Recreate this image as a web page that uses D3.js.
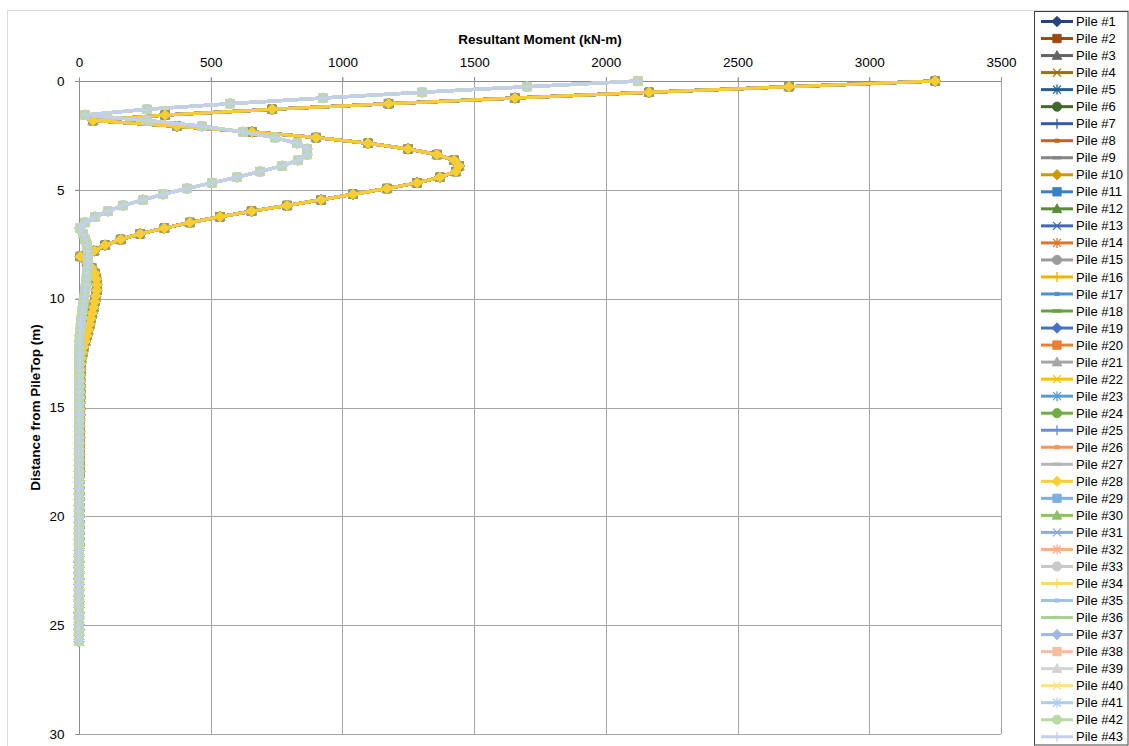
<!DOCTYPE html>
<html>
<head>
<meta charset="utf-8">
<script src="https://cdn.jsdelivr.net/npm/d3@7"></script>
<style>
  body { margin: 0; background: #ffffff; }
  svg text { font-family: "Liberation Sans", Arial, sans-serif; }
</style>
</head>
<body>
<svg id="chart" width="1129" height="746"></svg>
<script>
// Depth of each output node below the pile top (m)
const depths = [
  0, 0.26, 0.52, 0.78, 1.04, 1.3, 1.56, 1.82, 2.08, 2.34,
  2.6, 2.86, 3.12, 3.38, 3.64, 3.9, 4.16, 4.42, 4.68, 4.94,
  5.2, 5.46, 5.72, 5.98, 6.24, 6.5, 6.76, 7.02, 7.28, 7.54,
  7.8, 8.06, 8.32, 8.58, 8.84, 9.1, 9.36, 9.62, 9.88, 10.14,
  10.4, 10.66, 10.92, 11.18, 11.44, 11.7, 11.96, 12.22, 12.48, 12.74,
  13, 13.26, 13.52, 13.78, 14.04, 14.3, 14.56, 14.82, 15.08, 15.34,
  15.6, 15.86, 16.12, 16.38, 16.64, 16.9, 17.16, 17.42, 17.68, 17.94,
  18.2, 18.46, 18.72, 18.98, 19.24, 19.5, 19.76, 20.02, 20.28, 20.54,
  20.8, 21.06, 21.32, 21.58, 21.84, 22.1, 22.36, 22.62, 22.88, 23.14,
  23.4, 23.66, 23.92, 24.18, 24.44, 24.7, 24.96, 25.22, 25.48, 25.74
];

// Resultant moment profile shared by piles #1 - #28 (kN-m)
const momentProfileA = [
  3250, 2695, 2164, 1655, 1175, 733, 327, 53, 372, 657,
  900, 1097, 1249, 1359, 1424, 1443, 1431, 1370, 1283, 1169,
  1040, 919, 790, 655, 535, 421, 324, 232, 158, 99,
  58, 5, 30, 48, 60, 66, 68, 67, 64, 60,
  55, 50, 45, 40, 35, 30, 24, 18, 13, 9,
  7, 6, 5, 5, 5, 5, 5, 4, 4, 4,
  3, 3, 3, 3, 2, 2, 2, 2, 2, 2,
  1, 1, 1, 1, 1, 1, 1, 1, 1, 1,
  1, 1, 1, 0, 0, 0, 0, 0, 0, 0,
  0, 0, 0, 0, 0, 0, 0, 0, 0, 0
];

// Resultant moment profile shared by piles #29 - #43 (kN-m)
const momentProfileB = [
  2122, 1701, 1302, 926, 573, 258, 23, 258, 467, 623,
  744, 828, 866, 866, 831, 771, 687, 600, 505, 410,
  319, 243, 167, 110, 61, 23, 3, 15, 24, 30,
  33, 34, 34, 33, 31, 28, 26, 23, 20, 17,
  14, 12, 9, 7, 5, 3, 2, 2, 2, 1,
  1, 1, 1, 1, 1, 1, 1, 1, 1, 1,
  1, 0, 0, 0, 0, 0, 0, 0, 0, 0,
  0, 0, 0, 0, 0, 0, 0, 0, 0, 0,
  0, 0, 0, 0, 0, 0, 0, 0, 0, 0,
  0, 0, 0, 0, 0, 0, 0, 0, 0, 0
];

// Which profile each pile follows, pile #1 first
const pileProfile = [
  "A","A","A","A","A","A","A","A","A","A",
  "A","A","A","A","A","A","A","A","A","A",
  "A","A","A","A","A","A","A","A",
  "B","B","B","B","B","B","B","B","B","B",
  "B","B","B","B","B"
];

const pileNames = [
  "Pile #1","Pile #2","Pile #3","Pile #4","Pile #5","Pile #6","Pile #7","Pile #8","Pile #9","Pile #10",
  "Pile #11","Pile #12","Pile #13","Pile #14","Pile #15","Pile #16","Pile #17","Pile #18","Pile #19","Pile #20",
  "Pile #21","Pile #22","Pile #23","Pile #24","Pile #25","Pile #26","Pile #27","Pile #28","Pile #29","Pile #30",
  "Pile #31","Pile #32","Pile #33","Pile #34","Pile #35","Pile #36","Pile #37","Pile #38","Pile #39","Pile #40",
  "Pile #41","Pile #42","Pile #43"
];

const pileColors = [
  "#264478","#9E480E","#636363","#997300","#255E91","#43682B",
  "#365BA5","#C8611E","#858585","#CC9A00","#3A80C6","#5A8B39",
  "#3F68B8","#E2742A","#9B9B9B","#EDB300","#4E91CF","#67A042",
  "#4472C4","#ED7D31","#A5A5A5","#FFC000","#5B9BD5","#70AD47",
  "#698ED0","#F1975A","#B7B7B7","#FFCD33","#7CAFDD","#8CC168",
  "#8FAADC","#F4B183","#C9C9C9","#FFD966","#9DC3E6","#A9D18E",
  "#A2B6E2","#F6BFA0","#D2D2D2","#FFE08A","#ADCDEA","#B9DAA4",
  "#C3D0EC"
];

// Automatic marker sequence, repeating every nine series
const markerCycle = ["diamond","square","triangle","x","star","circle","plus","dot","dash"];

const xTicks = [0, 500, 1000, 1500, 2000, 2500, 3000, 3500];
const yTicks = [0, 5, 10, 15, 20, 25, 30];

const xTitle = "Resultant Moment (kN-m)";
const yTitle = "Distance from PileTop (m)";

// ---------------------------------------------------------------
const svg = d3.select("#chart");
const plot = { left: 79, right: 1001, top: 81, bottom: 734 };

const x = d3.scaleLinear().domain([0, 3500]).range([plot.left, plot.right]);
const y = d3.scaleLinear().domain([0, 30]).range([plot.top, plot.bottom]);

const gridColor = "#A6A6A6";
const axisColor = "#8C8C8C";

// Chart area frame
svg.append("path")
  .attr("d", "M7.5,746 V10.5 H1129")
  .attr("fill", "none").attr("stroke", "#D9D9D9").attr("stroke-width", 1);

// Gridlines
const grid = svg.append("g");
grid.selectAll(".vgrid").data(xTicks.slice(1)).join("line")
  .attr("x1", d => Math.round(x(d)) + 0.5).attr("x2", d => Math.round(x(d)) + 0.5)
  .attr("y1", plot.top - 4).attr("y2", plot.bottom)
  .attr("stroke", gridColor).attr("stroke-width", 1);
grid.selectAll(".hgrid").data(yTicks.slice(1)).join("line")
  .attr("x1", plot.left - 4).attr("x2", plot.right)
  .attr("y1", d => Math.round(y(d)) + 0.5).attr("y2", d => Math.round(y(d)) + 0.5)
  .attr("stroke", gridColor).attr("stroke-width", 1);

// Axes (moment axis on top, depth axis on the left)
const xAxis = d3.axisTop(x).tickValues(xTicks).tickSize(4).tickPadding(11).tickFormat(d3.format("d"));
const yAxis = d3.axisLeft(y).tickValues(yTicks).tickSize(4).tickPadding(11).tickFormat(d3.format("d"));

const gx = svg.append("g").attr("transform", `translate(0,${Math.round(plot.top) + 0.5})`).call(xAxis);
const gy = svg.append("g").attr("transform", `translate(${Math.round(plot.left) + 0.5},0)`).call(yAxis);
[gx, gy].forEach(g => {
  g.select(".domain").attr("stroke", axisColor);
  g.selectAll(".tick line").attr("stroke", axisColor);
  g.selectAll(".tick text").attr("fill", "#000").attr("font-size", 13.5)
    .attr("font-family", "'Liberation Sans', Arial, sans-serif");
});
gx.select(".domain").attr("d", `M${plot.left - 4},0H${plot.right}`);
gy.select(".domain").attr("d", `M0,${plot.top}V${plot.bottom}`);

// Axis titles
svg.append("text")
  .attr("x", (plot.left + plot.right) / 2).attr("y", 44)
  .attr("text-anchor", "middle").attr("font-size", 13.5).attr("font-weight", "bold")
  .text(xTitle);
svg.append("text")
  .attr("transform", `translate(40,${(plot.top + plot.bottom) / 2}) rotate(-90)`)
  .attr("text-anchor", "middle").attr("font-size", 13.5).attr("font-weight", "bold")
  .text(yTitle);

// Marker shapes centred on (0,0)
function markerPath(kind) {
  switch (kind) {
    case "diamond":  return "M0,-5.2L5.2,0L0,5.2L-5.2,0Z";
    case "square":   return "M-4.2,-4.2H4.2V4.2H-4.2Z";
    case "triangle": return "M0,-5L4.8,3.8H-4.8Z";
    case "x":        return "M-4,-4L4,4M-4,4L4,-4";
    case "star":     return "M-4,-4L4,4M-4,4L4,-4M0,-5V5";
    case "circle":   return "M4.6,0A4.6,4.6 0 1 1 -4.6,0A4.6,4.6 0 1 1 4.6,0Z";
    case "plus":     return "M-5,0H5M0,-5V5";
    case "dot":      return "M-2.2,-1.6H2.2V1.6H-2.2Z";
    case "dash":     return "M-4.5,-1.2H4.5V1.2H-4.5Z";
  }
}
const strokeOnly = new Set(["x", "star", "plus"]);

function styleMarker(sel, kind, color) {
  sel.attr("d", markerPath(kind))
    .attr("fill", strokeOnly.has(kind) ? "none" : color)
    .attr("stroke", color)
    .attr("stroke-width", strokeOnly.has(kind) ? 1.3 : 0.9);
}

// Series
const line = d3.line().x(d => x(d.m)).y(d => y(d.z));
const seriesLayer = svg.append("g");

pileNames.forEach((name, i) => {
  const profile = pileProfile[i] === "A" ? momentProfileA : momentProfileB;
  const pts = depths.map((z, k) => ({ z, m: profile[k] }));
  const color = pileColors[i];
  const kind = markerCycle[i % markerCycle.length];
  const g = seriesLayer.append("g").attr("class", "series");
  g.append("path").datum(pts)
    .attr("d", line).attr("fill", "none")
    .attr("stroke", color).attr("stroke-width", 3)
    .attr("stroke-linejoin", "round").attr("stroke-linecap", "round");
  g.selectAll("path.mk").data(pts).join("path").attr("class", "mk")
    .attr("transform", d => `translate(${x(d.m)},${y(d.z)})`)
    .call(styleMarker, kind, color);
});

// Legend
const legend = { x: 1034.5, y: 11.5, rowTop: 21.5, rowStep: 17.03 };
svg.append("rect")
  .attr("x", legend.x).attr("y", legend.y)
  .attr("width", 1128 - legend.x).attr("height", 745 - legend.y)
  .attr("fill", "#fff").attr("stroke", "#404040").attr("stroke-width", 1);

const lg = svg.append("g").selectAll("g").data(pileNames).join("g")
  .attr("transform", (d, i) => `translate(1041,${legend.rowTop + i * legend.rowStep})`);
lg.append("line").attr("x1", 0).attr("x2", 32).attr("y1", 0).attr("y2", 0)
  .attr("stroke", (d, i) => pileColors[i]).attr("stroke-width", 3);
lg.append("path").attr("transform", "translate(16,0)")
  .each(function (d, i) {
    d3.select(this).call(styleMarker, markerCycle[i % markerCycle.length], pileColors[i]);
  });
lg.append("text").attr("x", 35).attr("y", 0).attr("dy", "0.35em")
  .attr("font-size", 13).attr("fill", "#000").text(d => d);
</script>
</body>
</html>
